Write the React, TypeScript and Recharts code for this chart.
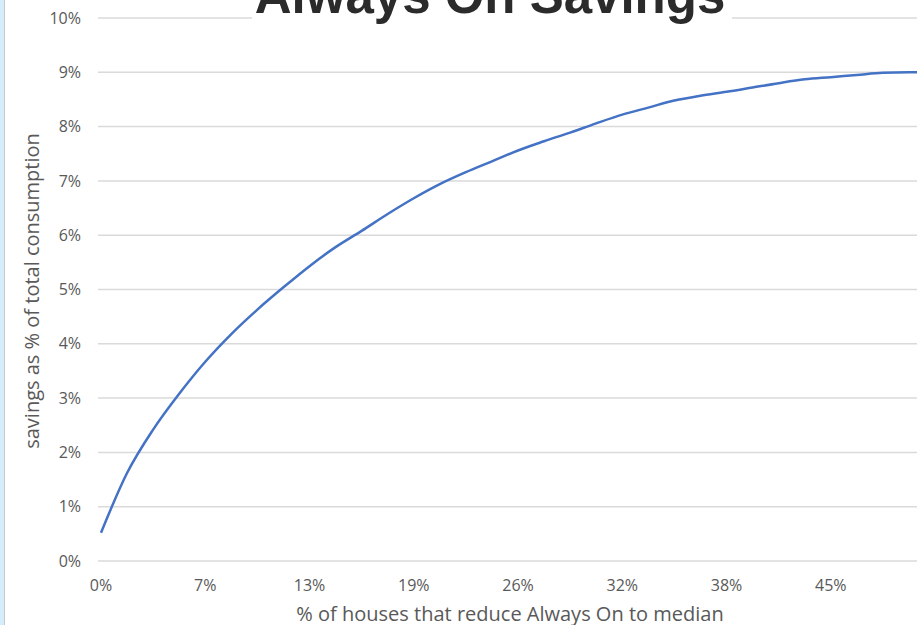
import React from "react";
import { LineChart, Line, XAxis, YAxis, CartesianGrid } from "recharts";

// share of houses brought down to the median Always On load
const categories = [
  "0%", "2%", "4%", "5%", "7%", "8%", "10%", "11%", "13%", "15%", "16%",
  "18%", "19%", "21%", "22%", "24%", "26%", "27%", "29%", "30%", "32%",
  "34%", "35%", "37%", "38%", "40%", "41%", "43%", "45%", "46%", "48%",
  "49%", "51%",
];

// resulting savings, % of total consumption
const savings = [
  0.52, 1.62, 2.42, 3.08, 3.67, 4.18, 4.63, 5.04, 5.43, 5.78, 6.08,
  6.39, 6.68, 6.94, 7.16, 7.36, 7.56, 7.73, 7.89, 8.06, 8.22,
  8.35, 8.48, 8.57, 8.64, 8.72, 8.8, 8.87, 8.91, 8.95, 8.99,
  9.0, 9.0,
];

// labelled categories on the x axis
const xTicks = ["0%", "7%", "13%", "19%", "26%", "32%", "38%", "45%"];
const yTicks = [0, 1, 2, 3, 4, 5, 6, 7, 8, 9, 10];

const data = categories.map((label, i) => ({ label, savings: savings[i] }));

const FONT = "'Open Sans', sans-serif";
const GREY = "#595959";

export default function App() {
  return (
    <div
      style={{
        position: "fixed",
        left: 0,
        top: 0,
        width: 917,
        height: 625,
        overflow: "hidden",
        background: "#fff",
      }}
    >
      <LineChart
        width={940}
        height={640}
        data={data}
        margin={{ top: 18, right: 5, bottom: 0, left: 0 }}
      >
        <CartesianGrid vertical={false} stroke="#dadada" strokeWidth={1.5} />
        <XAxis
          dataKey="label"
          ticks={xTicks}
          interval={0}
          height={79}
          padding={{ left: 3, right: 0 }}
          axisLine={false}
          tickLine={false}
          tickSize={0}
          tickMargin={19}
          tick={{ fill: GREY, fontSize: 16, fontFamily: FONT }}
          label={{
            content: () => (
              <text
                x={510}
                y={621}
                textAnchor="middle"
                fill={GREY}
                fontSize={20}
                fontFamily={FONT}
              >
                % of houses that reduce Always On to median
              </text>
            ),
          }}
        />
        <YAxis
          width={98}
          domain={[0, 10]}
          ticks={yTicks}
          interval={0}
          axisLine={false}
          tickLine={false}
          tickSize={0}
          tickMargin={17}
          tickFormatter={(v: number) => `${v}%`}
          tick={{ fill: GREY, fontSize: 16, fontFamily: FONT }}
          label={{
            content: () => (
              <text
                x={39}
                y={291}
                transform="rotate(-90, 39, 291)"
                textAnchor="middle"
                fill={GREY}
                fontSize={20}
                fontFamily={FONT}
              >
                savings as % of total consumption
              </text>
            ),
          }}
        />
        <Line
          dataKey="savings"
          type="monotone"
          stroke="#4472C4"
          strokeWidth={2.5}
          dot={false}
          isAnimationActive={false}
        />
        {/* chart title sits over the top gridline on a white box */}
        <rect x={252} y={-40} width={480} height={59} fill="#fff" />
        <text
          x={490}
          y={13}
          textAnchor="middle"
          fill="#2b2b2b"
          fontSize={51}
          fontWeight="bold"
          fontFamily="'Liberation Sans', Arial, sans-serif"
        >
          Always On Savings
        </text>
      </LineChart>
      <div
        style={{
          position: "absolute",
          left: 0,
          top: 0,
          width: 4,
          height: 625,
          background: "#d5ecfb",
          borderRight: "1px solid #c9c9c9",
        }}
      />
    </div>
  );
}
